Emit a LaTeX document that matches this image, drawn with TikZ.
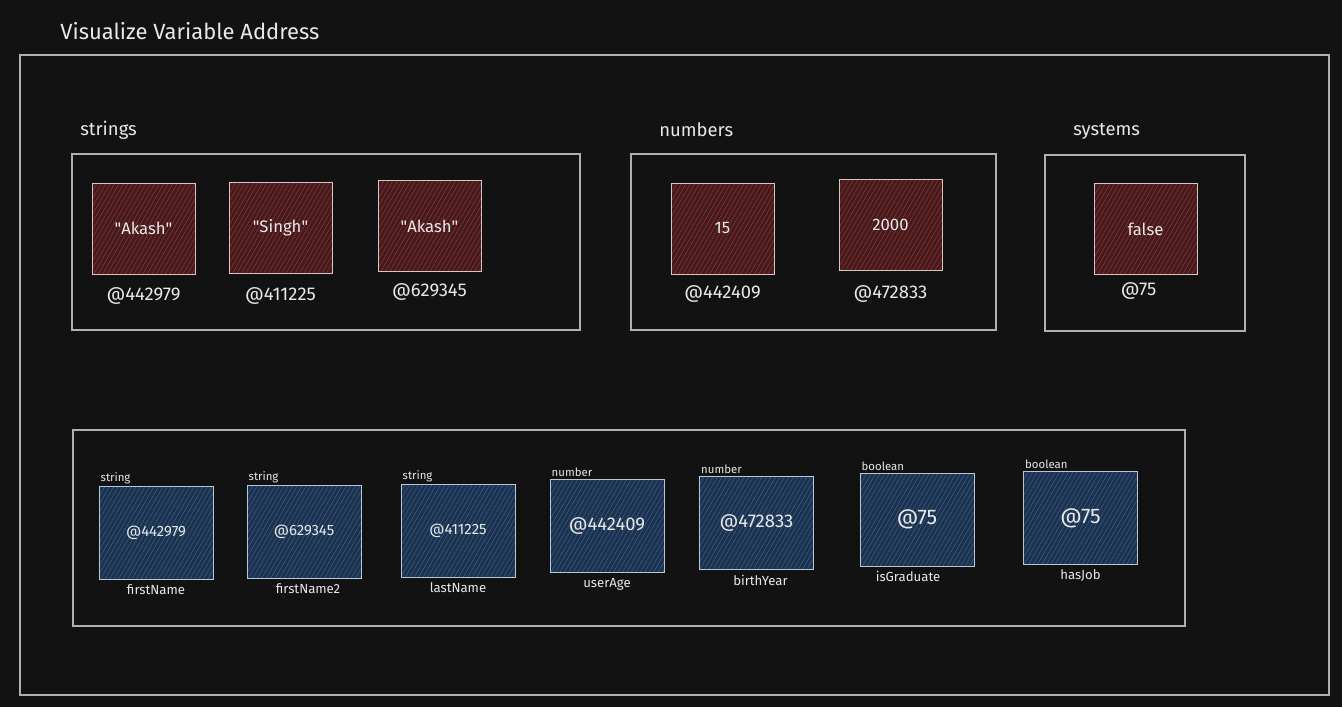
\documentclass[tikz,border=0pt]{standalone}
\usepackage{fontspec}
\setmainfont{Fira Sans}
\usetikzlibrary{positioning,patterns.meta}

\definecolor{bgdark}{HTML}{121212}
\definecolor{framegray}{HTML}{B0B0B0}
\definecolor{inkwhite}{HTML}{E8E8E8}
\definecolor{valred}{HTML}{47191B}
\definecolor{hatchred}{HTML}{7E3A3C}
\definecolor{edgered}{HTML}{D9C4C4}
\definecolor{refblue}{HTML}{1B3350}
\definecolor{hatchblue}{HTML}{3E5C80}
\definecolor{edgeblue}{HTML}{B9C6D6}

\tikzset{
  frame/.style={draw=framegray, line width=0.6pt},
  heading/.style={text=inkwhite, font=\fontsize{10.5}{12}\selectfont, anchor=west, inner sep=0pt},
  valbox/.style={draw=edgered, line width=0.5pt, minimum width=2.06cm, minimum height=1.82cm,
    preaction={fill=valred}, pattern={Lines[angle=60,distance=2.2pt,line width=0.3pt]},
    pattern color=hatchred, text=inkwhite, font=\fontsize{9.5}{11}\selectfont},
  refbox/.style={draw=edgeblue, line width=0.5pt, minimum width=2.28cm, minimum height=1.86cm,
    preaction={fill=refblue}, pattern={Lines[angle=60,distance=2.2pt,line width=0.3pt]},
    pattern color=hatchblue, text=inkwhite},
  addr/.style={text=inkwhite, font=\fontsize{10.5}{12}\selectfont, inner sep=1pt},
  typelabel/.style={text=inkwhite, font=\fontsize{6.5}{7}\selectfont, anchor=south west, inner sep=1pt},
  varname/.style={text=inkwhite, font=\fontsize{7.5}{9}\selectfont, inner sep=1pt},
}

\begin{document}
\begin{tikzpicture}[x=0.02cm, y=-0.02cm]

        \fill[bgdark] (0,0) rectangle (1342,707);
        \useasboundingbox (0,0) rectangle (1342,707);

        \node[heading, font=\fontsize{12.5}{14}\selectfont] (title) at (60,31) {Visualize Variable Address};
        \draw[frame] (20,55) rectangle (1329,695);

        % memory: values
        \node[heading] (hstr) at (80,130) {strings};
        \node[heading] (hnum) at (659,130) {numbers};
        \node[heading] (hsys) at (1073,131) {systems};

        \draw[frame] (72,154) rectangle (580,330);
        \draw[frame] (631,154) rectangle (996,330);
        \draw[frame] (1045,155) rectangle (1245,331);

        \begin{scope}[every node/.append style={valbox}]
          \node (s1) at (143.5,228.5) {\textquotedbl Akash\textquotedbl};
          \node (s2) at (280.5,227.5) {\textquotedbl Singh\textquotedbl};
          \node (s3) at (429.5,226) {\textquotedbl Akash\textquotedbl};
          \node (n1) at (722.5,228.5) {15};
          \node (n2) at (890.5,224.5) {2000};
          \node (b1) at (1145.5,229) {false};
        \end{scope}

        \node[addr, below=0.22cm of s1] (as1) {@442979};
        \node[addr, below=0.24cm of s2] (as2) {@411225};
        \node[addr, below=0.2cm of s3] (as3) {@629345};
        \node[addr, below=0.18cm of n1] (an1) {@442409};
        \node[addr, below=0.26cm of n2] (an2) {@472833};
        \node[addr, below=0.12cm of b1, xshift=-0.14cm] (ab1) {@75};

        % variables: references
        \draw[frame] (73,430) rectangle (1185,626);

        \node[refbox, font=\fontsize{8.5}{10}\selectfont] (v1) at (156,532.5) {@442979};
        \node[refbox, font=\fontsize{8.5}{10}\selectfont] (v2) at (304,532) {@629345};
        \node[refbox, font=\fontsize{8.5}{10}\selectfont] (v3) at (458,531) {@411225};
        \node[refbox, font=\fontsize{10.5}{12}\selectfont] (v4) at (607,526) {@442409};
        \node[refbox, font=\fontsize{10.5}{12}\selectfont] (v5) at (756.5,523) {@472833};
        \node[refbox, font=\fontsize{12}{14}\selectfont] (v6) at (917,519.5) {@75};
        \node[refbox, font=\fontsize{12}{14}\selectfont] (v7) at (1080.5,518) {@75};

        \node[typelabel] (t1) at (v1.north west) {string};
        \node[typelabel] (t2) at (v2.north west) {string};
        \node[typelabel] (t3) at (v3.north west) {string};
        \node[typelabel] (t4) at (v4.north west) {number};
        \node[typelabel] (t5) at (v5.north west) {number};
        \node[typelabel] (t6) at (v6.north west) {boolean};
        \node[typelabel] (t7) at (v7.north west) {boolean};

        \node[varname, below=0.06cm of v1] (m1) {firstName};
        \node[varname, below=0.06cm of v2, xshift=0.08cm] (m2) {firstName2};
        \node[varname, below=0.06cm of v3] (m3) {lastName};
        \node[varname, below=0.06cm of v4] (m4) {userAge};
        \node[varname, below=0.06cm of v5, xshift=0.08cm] (m5) {birthYear};
        \node[varname, below=0.06cm of v6, xshift=-0.18cm] (m6) {isGraduate};
        \node[varname, below=0.06cm of v7] (m7) {hasJob};

\end{tikzpicture}
\end{document}
